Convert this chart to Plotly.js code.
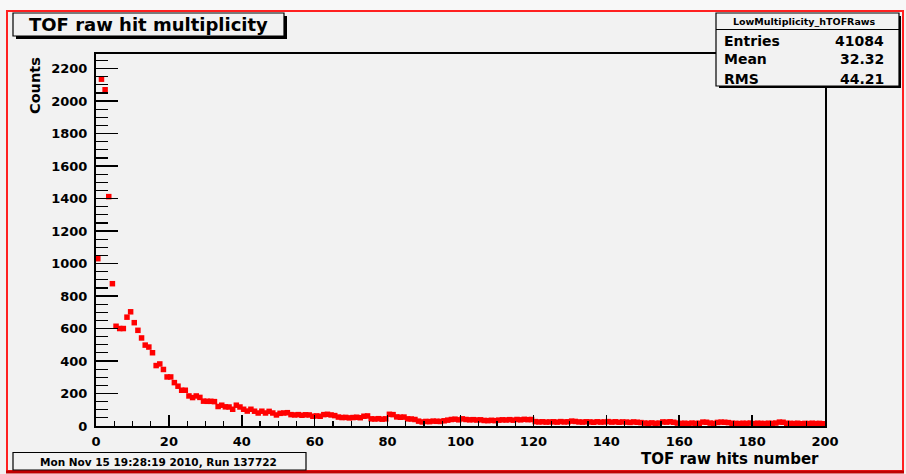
<!DOCTYPE html>
<html>
<head>
<meta charset="utf-8">
<script src="https://cdn.plot.ly/plotly-3.0.1.min.js"></script>
<style>
  html, body { margin: 0; padding: 0; background: #f2f2f2; }
  #chart { width: 906px; height: 474px; }
</style>
</head>
<body>
<div id="chart"></div>
<script>
// ---- data ----
const binLow = 0;
const binWidth = 1;
const counts = [
  1030, 2135, 2070, 1412, 876, 614, 600, 600, 670, 703,
  636, 589, 542, 498, 486, 451, 372, 382, 348, 302,
  302, 267, 245, 220, 220, 185, 175, 185, 176, 153,
  152, 152, 150, 120, 128, 118, 117, 103, 128, 117,
  103, 92, 103, 91, 80, 91, 80, 90, 80, 68,
  78, 80, 82, 70, 68, 70, 66, 69, 68, 60,
  62, 60, 70, 72, 68, 64, 55, 52, 53, 50,
  52, 54, 51, 60, 62, 44, 43, 45, 42, 44,
  72, 70, 56, 54, 55, 44, 43, 40, 30, 25,
  28, 27, 30, 29, 28, 32, 36, 40, 42, 38,
  44, 40, 38, 39, 37, 38, 34, 33, 35, 33,
  36, 38, 37, 39, 36, 40, 38, 41, 39, 40,
  27, 25, 26, 24, 25, 26, 24, 27, 25, 26,
  30, 28, 25, 24, 26, 25, 23, 26, 24, 25,
  27, 24, 26, 23, 25, 24, 22, 25, 23, 21,
  18, 17, 19, 16, 18, 25, 24, 26, 23, 18,
  16, 17, 15, 18, 16, 17, 24, 23, 18, 16,
  22, 24, 23, 21, 17, 16, 15, 17, 16, 18,
  15, 17, 16, 15, 17, 16, 18, 24, 23, 17,
  16, 15, 17, 14, 16, 15, 17, 15, 16, 14
];
const histName = "LowMultiplicity_hTOFRaws";
const statLabels = ["Entries", "Mean", "RMS"];
const statValues = ["41084", "32.32", "44.21"];
const chartTitle = "TOF raw hit multiplicity";
const xTitle = "TOF raw hits number";
const yTitle = "Counts";
const footer = "Mon Nov 15 19:28:19 2010, Run 137722";

const xs = counts.map((_, i) => binLow + (i + 0.5) * binWidth);

// ---- pixel -> paper helpers ----
const PL = 96, PR = 825, PT = 54, PB = 426;
const PW = PR - PL, PH = PB - PT;
const px = x => (x - PL) / PW;
const py = y => (PB - y) / PH;

const FONT = "DejaVu Sans";
const shapes = [];
const annotations = [];

function rect(x0, y0, x1, y1, opts) {
  shapes.push(Object.assign({
    type: "rect", xref: "paper", yref: "paper",
    x0: px(x0), x1: px(x1), y0: py(y1), y1: py(y0),
    line: { color: "black", width: 1 }, fillcolor: "rgba(0,0,0,0)"
  }, opts || {}));
}
function hline(x0, x1, y, color, width) {
  shapes.push({ type: "line", xref: "paper", yref: "paper",
    x0: px(x0), x1: px(x1), y0: py(y), y1: py(y),
    line: { color: color, width: width } });
}
function text(t, x, y, size, xanchor, opts) {
  annotations.push(Object.assign({
    text: t, xref: "paper", yref: "paper", x: px(x), y: py(y),
    xanchor: xanchor || "center", yanchor: "middle", showarrow: false,
    font: { family: FONT, size: size, color: "black", weight: "bold" }
  }, opts || {}));
}

// light strip above the red frame
rect(0, 0, 906, 10, { line: { width: 0 }, fillcolor: "#f8f8f8", layer: "below" });
// red frame
rect(7, 11, 903, 471, { line: { color: "#ff2020", width: 2 } });
hline(6, 904, 472, "#c00000", 3);

// title box with shadow
rect(16, 16, 287, 39, { line: { width: 0 }, fillcolor: "black" });
rect(13, 13, 284, 36, { line: { color: "black", width: 1.2 }, fillcolor: "#f2f2f2" });
text(chartTitle, 148, 24.5, 18);

// stats box with shadow
rect(719, 16, 901, 88, { line: { width: 0 }, fillcolor: "black" });
rect(716, 13, 899, 86, { line: { color: "black", width: 1.2 }, fillcolor: "#f2f2f2" });
hline(716, 899, 29.5, "black", 1.2);
text(histName, 804, 21, 9.5);
const rowY = [41, 59.5, 78.5];
statLabels.forEach((s, i) => {
  text(s, 722, rowY[i], 14, "left");
  text(statValues[i], 886, rowY[i], 14, "right");
});

// footer box
rect(13, 452.5, 306, 470, { line: { color: "black", width: 1.2 } });
text(footer, 158, 461.5, 10.5);

// axis titles
text(xTitle, 821, 458.5, 15, "right");
text(yTitle, 35, 86, 14.5, "center", { textangle: -90 });

const trace = {
  type: "scatter", mode: "markers", x: xs, y: counts,
  marker: { symbol: "square", size: 5.5, color: "#ff0000", line: { width: 0 } },
  hoverinfo: "x+y", cliponaxis: false
};

const tickFont = { family: FONT, size: 13, color: "black", weight: "bold" };
const layout = {
  width: 906, height: 474,
  margin: { l: PL, r: 906 - PR, t: PT, b: 474 - PB, pad: 0 },
  paper_bgcolor: "#f2f2f2", plot_bgcolor: "#f2f2f2",
  showlegend: false,
  xaxis: {
    range: [0, 200], dtick: 20, tick0: 0,
    ticks: "inside", ticklen: 11, tickwidth: 1.5, tickcolor: "black",
    minor: { dtick: 5, ticks: "inside", ticklen: 5.5, tickwidth: 1.2, tickcolor: "black", showgrid: false },
    showline: true, linecolor: "black", linewidth: 2, mirror: true,
    showgrid: false, zeroline: false, tickfont: tickFont, ticklabelstandoff: 2
  },
  yaxis: {
    range: [0, 2290], dtick: 200, tick0: 0,
    ticks: "inside", ticklen: 22, tickwidth: 1.5, tickcolor: "black",
    minor: { dtick: 50, ticks: "inside", ticklen: 12, tickwidth: 1.2, tickcolor: "black", showgrid: false },
    showline: true, linecolor: "black", linewidth: 2, mirror: true,
    showgrid: false, zeroline: false, tickfont: tickFont, ticklabelstandoff: 4
  },
  shapes: shapes,
  annotations: annotations
};

Plotly.newPlot("chart", [trace], layout, { displayModeBar: false, staticPlot: true });
</script>
</body>
</html>
